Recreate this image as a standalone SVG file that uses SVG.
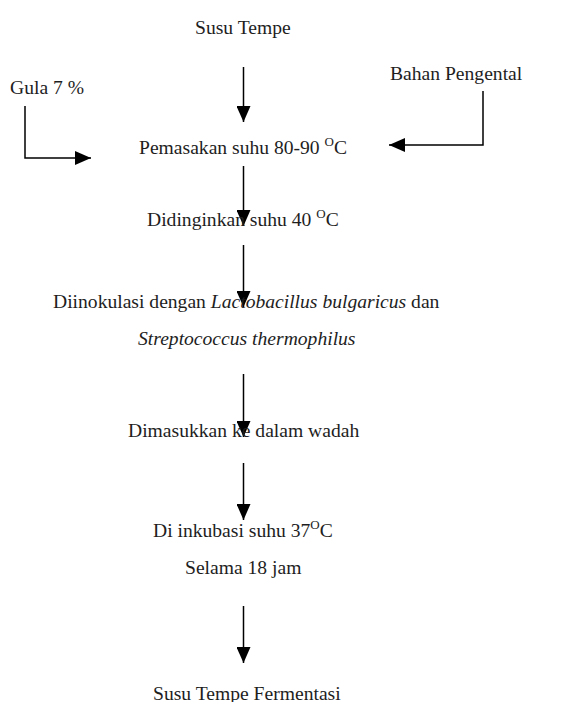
<svg xmlns="http://www.w3.org/2000/svg" width="566" height="702" viewBox="0 0 566 702">
<defs>
<style>
text{font-family:"Liberation Serif","Times New Roman",serif;font-size:19.6px;fill:#1e1e1e}
.it{font-style:italic}
.sup{font-size:13px}
.c{stroke:#000;stroke-width:1.5;fill:none}
</style>
<marker id="ah" viewBox="0 0 16 14" refX="16" refY="7" markerWidth="16" markerHeight="14" markerUnits="userSpaceOnUse" orient="auto">
<path d="M0,0 L16,7 L0,14 Z" fill="#000"/>
</marker>
</defs>
<rect width="566" height="702" fill="#fff"/>
<g id="connectors">
<line class="c" x1="243.5" y1="67" x2="243.5" y2="122" marker-end="url(#ah)"/>
<polyline class="c" points="25,106 25,158 91,158" marker-end="url(#ah)"/>
<polyline class="c" points="483,91 483,145 389,145" marker-end="url(#ah)"/>
<line class="c" x1="243.5" y1="166" x2="243.5" y2="226" marker-end="url(#ah)"/>
<line class="c" x1="243.5" y1="245" x2="243.5" y2="307" marker-end="url(#ah)"/>
<line class="c" x1="243.5" y1="374" x2="243.5" y2="437" marker-end="url(#ah)"/>
<line class="c" x1="243.5" y1="463" x2="243.5" y2="520" marker-end="url(#ah)"/>
<line class="c" x1="243.5" y1="606" x2="243.5" y2="663" marker-end="url(#ah)"/>
</g>
<g id="n-susu-tempe"><text x="195" y="33.5">Susu Tempe</text></g>
<g id="n-gula"><text x="10" y="94">Gula 7 %</text></g>
<g id="n-bahan"><text x="390" y="80">Bahan Pengental</text></g>
<g id="n-pemasakan"><text x="139" y="154">Pemasakan suhu 80-90 <tspan class="sup" dy="-8">O</tspan><tspan dy="8">C</tspan></text></g>
<g id="n-didinginkan"><text x="147" y="226">Didinginkan suhu 40 <tspan class="sup" dy="-8">O</tspan><tspan dy="8">C</tspan></text></g>
<g id="n-inokulasi">
<text x="53" y="308">Diinokulasi dengan <tspan class="it">Lactobacillus bulgaricus</tspan> dan</text>
<text class="it" x="138" y="345">Streptococcus thermophilus</text>
</g>
<g id="n-wadah"><text x="128" y="437">Dimasukkan ke dalam wadah</text></g>
<g id="n-inkubasi">
<text x="153" y="537">Di inkubasi suhu 37<tspan class="sup" dy="-8">O</tspan><tspan dy="8">C</tspan></text>
<text x="185" y="574">Selama 18 jam</text>
</g>
<g id="n-fermentasi"><text x="153" y="700">Susu Tempe Fermentasi</text></g>
</svg>
